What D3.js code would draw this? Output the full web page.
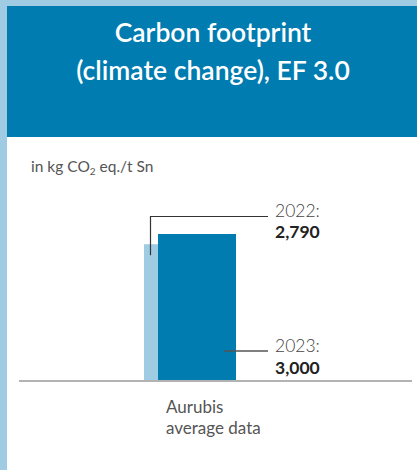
<!DOCTYPE html>
<html><head><meta charset="utf-8">
<script src="https://cdn.jsdelivr.net/npm/d3@7"></script>
<style>html,body{margin:0;padding:0;background:#fff;}svg{display:block;}</style>
</head><body>
<script>
const titleLines = ["Carbon footprint", "(climate change), EF 3.0"];
const unitLabel = ["in kg CO", "2", " eq./t Sn"];
const categories = ["Aurubis average data"];
const categoryLines = ["Aurubis", "average data"];
const years = ["2022", "2023"];
const values2022 = [2790];
const values2023 = [3000];
const valueLabels2022 = ["2,790"];
const valueLabels2023 = ["3,000"];

const W = 417, H = 470;
const dark = "#007cb0", light = "#9fcbe3";
const font = "Lato, 'Open Sans', sans-serif";

const svg = d3.select("body").append("svg").attr("width", W).attr("height", H);
svg.append("rect").attr("width", W).attr("height", H).attr("fill", light);
svg.append("rect").attr("x", 7).attr("y", 137).attr("width", W - 7).attr("height", H - 137).attr("fill", "#fff");
svg.append("rect").attr("x", 7).attr("y", 6).attr("width", W - 7).attr("height", 131).attr("fill", dark);

svg.selectAll("text.title").data(titleLines).join("text")
  .attr("x", 213).attr("y", (d, i) => 42 + i * 38)
  .attr("text-anchor", "middle").attr("fill", "#fff")
  .attr("font-family", font).attr("font-size", 26.5).attr("font-weight", 600)
  .text(d => d);

const ut = svg.append("text").attr("x", 31).attr("y", 172)
  .attr("font-family", font).attr("font-size", 15.5).attr("fill", "#555");
ut.append("tspan").text(unitLabel[0]);
ut.append("tspan").attr("font-size", 10).attr("dy", 3).text(unitLabel[1]);
ut.append("tspan").attr("dy", -3).text(unitLabel[2]);

const x = d3.scaleBand().domain(categories).range([144, 236]).padding(0);
const y = d3.scaleLinear().domain([0, 3000]).range([380, 234]);
const barW = 78, offset = 14;

// 2022 bar (behind)
svg.selectAll("rect.b22").data(values2022).join("rect")
  .attr("x", (d, i) => x(categories[i])).attr("y", d => y(d))
  .attr("width", barW).attr("height", d => y(0) - y(d)).attr("fill", light);
// 2023 bar
svg.selectAll("rect.b23").data(values2023).join("rect")
  .attr("x", (d, i) => x(categories[i]) + offset).attr("y", d => y(d))
  .attr("width", barW).attr("height", d => y(0) - y(d)).attr("fill", dark);

// axis baseline
svg.append("line").attr("x1", 19).attr("x2", 412).attr("y1", y(0) + 1).attr("y2", y(0) + 1)
  .attr("stroke", "#9a9a9a").attr("stroke-width", 1.5);

// leaders
const lx22 = x(categories[0]) + 6.5;
svg.append("path")
  .attr("d", `M${lx22},${y(values2022[0]) + 11}V216.5H268`)
  .attr("fill", "none").attr("stroke", "#333").attr("stroke-width", 1.2);
svg.append("line").attr("x1", x(categories[0]) + 80).attr("x2", 268)
  .attr("y1", 351).attr("y2", 351).attr("stroke", "#555").attr("stroke-width", 1.4);

function label(yr, val, by) {
  const t = svg.append("text").attr("x", 275).attr("y", by).attr("font-family", font)
    .attr("font-size", 17.5);
  t.append("tspan").attr("font-weight", 300).attr("fill", "#444").text(yr + ":");
  t.append("tspan").attr("x", 275).attr("dy", 21.5).attr("font-weight", 700).attr("fill", "#222").text(val);
}
label(years[0], valueLabels2022[0], 216.5);
label(years[1], valueLabels2023[0], 352);

const ct = svg.append("text").attr("x", 166).attr("y", 413)
  .attr("font-family", font).attr("font-size", 17).attr("fill", "#555");
ct.selectAll("tspan").data(categoryLines).join("tspan")
  .attr("x", 166).attr("dy", (d, i) => i === 0 ? 0 : 20.5)
  .text(d => d);
</script>
</body></html>
